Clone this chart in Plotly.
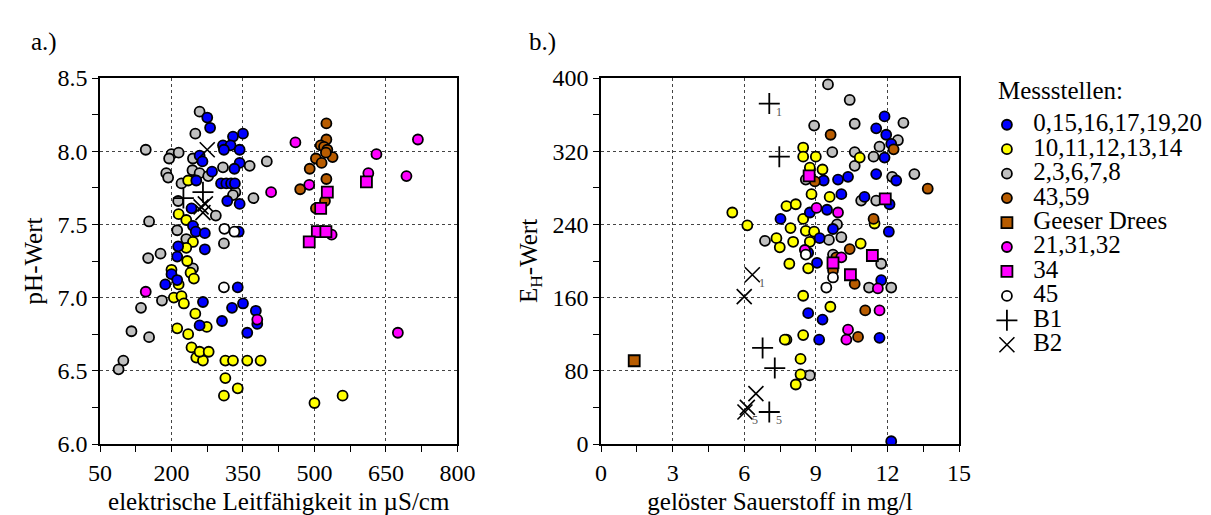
import plotly.graph_objects as go

# ---------------- Panel a: conductivity vs pH ----------------
a_blue_x = [275, 281, 329, 350, 308, 324, 310, 343, 259, 265, 343, 285, 332, 252, 304, 315, 325, 333, 317, 343,
            245, 251, 270, 242, 341, 270, 214, 212, 200, 187, 212, 339, 266, 327, 350, 306, 259, 377, 380, 359]
a_blue_y = [8.23, 8.16, 8.10, 8.12, 8.04, 8.04, 8.01, 8.01, 7.97, 7.93, 7.92, 7.86, 7.88, 7.80, 7.78, 7.78, 7.78, 7.78, 7.66, 7.64,
            7.49, 7.45, 7.44, 7.61, 7.45, 7.33, 7.35, 7.28, 7.16, 7.09, 7.12, 7.07, 6.97, 6.93, 6.96, 6.84, 6.81, 6.91, 6.82, 6.76]

a_yellow_x = [235, 215, 231, 245, 231, 233, 200, 240, 247, 215, 205, 221, 226, 250, 274, 212, 235, 242, 252, 266,
              259, 278, 313, 329, 359, 387, 313, 339, 310, 500, 559]
a_yellow_y = [7.80, 7.57, 7.53, 7.38, 7.34, 7.25, 7.19, 7.17, 7.13, 7.09, 7.00, 7.01, 6.96, 6.89, 6.80, 6.79, 6.75, 6.66, 6.59, 6.57,
              6.63, 6.63, 6.57, 6.57, 6.57, 6.57, 6.45, 6.38, 6.33, 6.28, 6.33]

a_gray_x = [259, 250, 146, 200, 215, 195, 245, 189, 193, 244, 259, 308, 364, 400, 221, 214, 277, 334, 372, 293,
            153, 212, 231, 310, 177, 151, 245, 329, 136, 180, 116, 153, 99, 89]
a_gray_y = [8.27, 8.12, 8.01, 7.98, 7.99, 7.95, 7.95, 7.85, 7.82, 7.87, 7.85, 7.89, 7.90, 7.93, 7.78, 7.66, 7.83, 7.72, 7.68, 7.56,
            7.52, 7.46, 7.40, 7.37, 7.30, 7.27, 7.20, 7.70, 6.93, 6.98, 6.77, 6.73, 6.57, 6.51]

a_brown_x = [525, 525, 513, 520, 527, 538, 503, 515, 490, 525, 470, 522, 503, 524]
a_brown_y = [8.19, 8.08, 8.04, 8.03, 8.01, 7.96, 7.95, 7.92, 7.88, 7.81, 7.74, 7.66, 7.61, 7.99]

a_magenta_x = [460, 717, 630, 613, 693, 489, 409, 536, 675, 146, 380]
a_magenta_y = [8.06, 8.08, 7.98, 7.85, 7.83, 7.77, 7.72, 7.43, 6.76, 7.04, 6.85]

a_sq34_x = [609, 527, 513, 506, 524, 489]
a_sq34_y = [7.79, 7.72, 7.61, 7.45, 7.45, 7.38]

a_white_x = [311, 332, 310]
a_white_y = [7.47, 7.45, 7.07]

a_b1_x = [266, 225]
a_b1_y = [7.72, 7.68]
a_b2_x = [275, 271, 266, 262]
a_b2_y = [8.01, 7.64, 7.58, 7.62]

# ---------------- Panel b: dissolved oxygen vs Eh ----------------
b_blue_x = [11.88, 11.53, 11.95, 12.16, 11.88, 11.53, 12.37, 10.35, 9.93, 9.33, 10.07, 11.04, 12.09, 9.47, 8.75, 7.52,
            9.72, 9.16, 12.06, 8.68, 9.05, 11.74, 8.68, 9.28, 9.14, 11.67, 12.16]
b_blue_y = [358, 345, 338, 328, 313, 295, 288, 292, 289, 288, 273, 270, 262, 256, 253, 246,
            235, 225, 232, 209, 198, 179, 143, 136, 114, 116, 3]

b_yellow_x = [8.47, 8.47, 9.00, 8.75, 9.28, 8.82, 9.58, 7.77, 8.16, 8.47, 7.94, 8.58, 8.93, 7.35, 8.05, 7.49, 8.75,
              10.88, 7.89, 8.68, 8.47, 9.61, 7.77, 8.47, 8.36, 8.36, 8.16, 11.46, 10.84, 5.50, 6.13, 7.70]
b_yellow_y = [324, 314, 314, 302, 300, 273, 270, 260, 262, 246, 236, 233, 232, 225, 221, 215, 221,
              219, 197, 192, 162, 150, 114, 119, 93, 76, 65, 241, 313, 253, 239, 114]

b_gray_x = [9.51, 10.42, 8.93, 10.63, 12.67, 9.69, 10.63, 10.63, 11.42, 11.67, 12.44, 13.13, 12.20, 8.58, 10.90, 11.53,
            9.89, 10.07, 9.55, 9.72, 11.74, 11.23, 12.16, 8.75, 6.87]
b_gray_y = [393, 376, 348, 350, 351, 319, 319, 304, 314, 325, 332, 295, 292, 289, 266, 266,
            240, 226, 223, 207, 197, 171, 171, 75, 222]

b_brown_x = [9.62, 12.26, 13.69, 8.96, 11.42, 10.42, 9.72, 10.63, 11.07, 10.77, 9.86]
b_brown_y = [338, 322, 279, 287, 246, 213, 190, 175, 146, 117, 204]

b_geeser_x = [1.39]
b_geeser_y = [91]

b_magenta_x = [9.93, 9.03, 11.67, 10.35, 10.28, 11.60, 10.07, 8.54]
b_magenta_y = [253, 258, 146, 125, 114, 170, 204, 212]

b_sq34_x = [11.91, 11.37, 10.45, 9.72, 8.72]
b_sq34_y = [268, 206, 185, 198, 293]

b_white_x = [9.44, 9.72, 8.58]
b_white_y = [171, 182, 207]

b_b1_x = [7.05, 7.47, 6.77, 7.28, 7.05]
b_b1_y = [372, 314, 105, 83, 35]
b_b2_x = [6.34, 6.00, 6.49, 6.13, 6.03]
b_b2_y = [185, 161, 55, 40, 35]

# subscript labels: (series, index, text)
b_labels = [("B1", 0, "1"), ("B2", 0, "1"), ("B2", 4, "5"), ("B1", 4, "5")]

legend_names = ["0,15,16,17,19,20", "10,11,12,13,14", "2,3,6,7,8", "43,59", "Geeser Drees",
                "21,31,32", "34", "45", "B1", "B2"]

x_ticks_a = [50, 200, 350, 500, 650, 800]
y_ticks_a = [6.0, 6.5, 7.0, 7.5, 8.0, 8.5]
x_ticks_b = [0, 3, 6, 9, 12, 15]
y_ticks_b = [0, 80, 160, 240, 320, 400]

# ---------------- styling ----------------
FONT = "Liberation Serif"
BLUE, YELLOW, GRAY, BROWN, MAGENTA, WHITE = "#0000FF", "#FFFF00", "#C0C0C0", "#B85C00", "#FF00FF", "#FFFFFF"
LEG_TXT = 25

fig = go.Figure()


def circ(color):
    return dict(symbol="circle", size=10, color=color, line=dict(color="black", width=1.8))


def sq(color):
    return dict(symbol="square", size=11, color=color, line=dict(color="black", width=1.8))


plus = dict(symbol="cross-thin", size=15, color="black", line=dict(color="black", width=1.8))
ex = dict(symbol="x-thin", size=15, color="black", line=dict(color="black", width=1.6))

series = [
    (legend_names[0], a_blue_x, a_blue_y, b_blue_x, b_blue_y, circ(BLUE)),
    (legend_names[1], a_yellow_x, a_yellow_y, b_yellow_x, b_yellow_y, circ(YELLOW)),
    (legend_names[2], a_gray_x, a_gray_y, b_gray_x, b_gray_y, circ(GRAY)),
    (legend_names[3], a_brown_x, a_brown_y, b_brown_x, b_brown_y, circ(BROWN)),
    (legend_names[4], None, None, b_geeser_x, b_geeser_y, sq(BROWN)),
    (legend_names[5], a_magenta_x, a_magenta_y, b_magenta_x, b_magenta_y, circ(MAGENTA)),
    (legend_names[6], a_sq34_x, a_sq34_y, b_sq34_x, b_sq34_y, sq(MAGENTA)),
    (legend_names[7], a_white_x, a_white_y, b_white_x, b_white_y, circ(WHITE)),
    (legend_names[8], a_b1_x, a_b1_y, b_b1_x, b_b1_y, plus),
    (legend_names[9], a_b2_x, a_b2_y, b_b2_x, b_b2_y, ex),
]

# draw order: gray first so colored points sit on top (like the reference)
draw_order = [2, 1, 0, 3, 4, 5, 6, 7, 8, 9]
for i in draw_order:
    name, ax_, ay_, bx_, by_, mk = series[i]
    label = f"<span style='font-size:{LEG_TXT}px'>&nbsp;{name}</span>"
    if ax_ is not None:
        fig.add_trace(go.Scatter(x=ax_, y=ay_, mode="markers", marker=mk, name=label,
                                 legendgroup=name, showlegend=False, xaxis="x", yaxis="y",
                                 legendrank=i))
    fig.add_trace(go.Scatter(x=bx_, y=by_, mode="markers", marker=mk, name=label,
                             legendgroup=name, showlegend=True, xaxis="x2", yaxis="y2",
                             legendrank=i))

# subscript annotations on B1/B2 points in panel b
src = {"B1": (b_b1_x, b_b1_y), "B2": (b_b2_x, b_b2_y)}
for ser, idx, txt in b_labels:
    xs, ys = src[ser]
    fig.add_annotation(x=xs[idx], y=ys[idx], xref="x2", yref="y2", text=txt, showarrow=False,
                       xshift=10, yshift=-8, font=dict(family=FONT, size=12, color="#555555"))

axis_common = dict(showline=True, linecolor="black", linewidth=1.6, mirror=True,
                   ticks="outside", ticklen=6, tickwidth=1.3, tickcolor="black",
                   showgrid=True, gridcolor="#444444", griddash="dot", gridwidth=1,
                   zeroline=False, tickfont=dict(family=FONT, size=24, color="black"),
                   title_font=dict(family=FONT, size=25, color="black"))

L, R = 91.5, 953.0
W = R - L
dom_a = [0, (450 - L) / W]
dom_b = [(594 - L) / W, 1]

fig.update_layout(
    width=1211, height=515,
    margin=dict(l=L, r=1211 - R, t=70, b=73),
    paper_bgcolor="white", plot_bgcolor="white",
    font=dict(family=FONT, color="black"),
    xaxis=dict(axis_common, domain=dom_a, range=[50, 800], tickvals=x_ticks_a,
               minor=dict(ticks="outside", dtick=75, tick0=50, ticklen=6, tickwidth=1.3, tickcolor="black", showgrid=False),
               title=dict(text="elektrische Leitfähigkeit in µS/cm", standoff=8), anchor="y"),
    yaxis=dict(axis_common, domain=[0, 1], range=[6.0, 8.5], tickvals=y_ticks_a, tickformat=".1f",
               minor=dict(ticks="outside", dtick=0.25, tick0=6.0, ticklen=6, tickwidth=1.3, tickcolor="black", showgrid=False),
               title=dict(text="pH-Wert", standoff=8), anchor="x"),
    xaxis2=dict(axis_common, domain=dom_b, range=[0, 15], tickvals=x_ticks_b,
                minor=dict(ticks="outside", dtick=1.5, tick0=0, ticklen=6, tickwidth=1.3, tickcolor="black", showgrid=False),
                title=dict(text="gelöster Sauerstoff in mg/l", standoff=8), anchor="y2"),
    yaxis2=dict(axis_common, domain=[0, 1], range=[0, 400], tickvals=y_ticks_b,
                minor=dict(ticks="outside", dtick=40, tick0=0, ticklen=6, tickwidth=1.3, tickcolor="black", showgrid=False),
                title=dict(text="E<sub>H</sub>-Wert", standoff=8), anchor="x2"),
    legend=dict(x=(981 - L) / W, xanchor="left", y=(442 - 100) / 372, yanchor="top",
                font=dict(family=FONT, size=16.5, color="black"), itemsizing="trace",
                bgcolor="rgba(0,0,0,0)", borderwidth=0, tracegroupgap=0, traceorder="normal"),
    showlegend=True,
)

fig.add_annotation(text="Messstellen:", xref="paper", yref="paper", x=(990 - L) / W, y=(442 - 83) / 372,
                   xanchor="left", yanchor="middle", showarrow=False,
                   font=dict(family=FONT, size=LEG_TXT, color="black"))
fig.add_annotation(text="a.)", xref="paper", yref="paper", x=(20 - L) / W, y=(442 - 33) / 372,
                   xanchor="left", yanchor="middle", showarrow=False,
                   font=dict(family=FONT, size=25, color="black"))
fig.add_annotation(text="b.)", xref="paper", yref="paper", x=(520 - L) / W, y=(442 - 33) / 372,
                   xanchor="left", yanchor="middle", showarrow=False,
                   font=dict(family=FONT, size=25, color="black"))

fig.write_html("out.html")
